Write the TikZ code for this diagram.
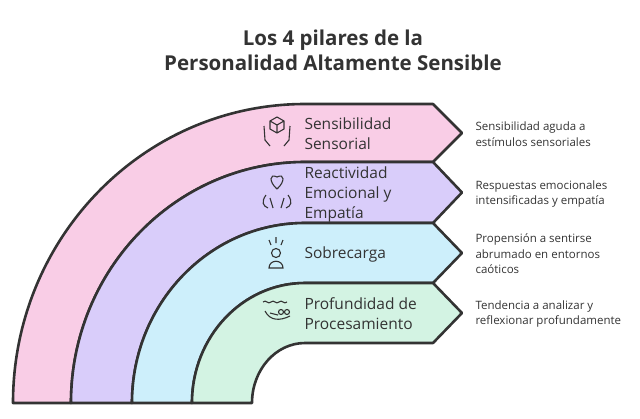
\documentclass[tikz,border=0pt]{standalone}
\usepackage{fontspec}
\setmainfont{Open Sans}
\definecolor{cpink}{HTML}{F9CDE6}
\definecolor{cpurple}{HTML}{D9CDFA}
\definecolor{cblue}{HTML}{CDEFFB}
\definecolor{cgreen}{HTML}{D3F3E3}
\definecolor{ink}{HTML}{333333}
\begin{document}
\begin{tikzpicture}[x=1pt,y=-1pt,
  band/.style={draw=ink,line width=2.6pt,line join=round},
  lab/.style={anchor=west,align=left,font=\fontsize{15.5}{20}\selectfont,text=ink},
  desc/.style={anchor=west,align=left,font=\fontsize{11.5}{15.5}\selectfont,text=ink},
  ico/.style={draw=ink,line width=1.1pt}]
\useasboundingbox (0,0) rectangle (640,418);
\newcommand{\bandshape}[3]{%
  \fill[#3] (305-#1+7,403) arc[start angle=180,end angle=270,x radius=#1-7,y radius=#1]
    -- (433,403-#1) -- (462,403-#1/2-#2/2) -- (433,403-#2) -- (305,403-#2)
    arc[start angle=270,end angle=180,x radius=#2-7,y radius=#2] -- cycle;
  \draw[band] (305-#1+7,403) arc[start angle=180,end angle=270,x radius=#1-7,y radius=#1]
    -- (433,403-#1) -- (462,403-#1/2-#2/2) -- (433,403-#2) -- (305,403-#2)
    arc[start angle=270,end angle=180,x radius=#2-7,y radius=#2] -- cycle;}
\bandshape{299}{241}{cpink}
\bandshape{241}{180}{cpurple}
\bandshape{180}{120}{cblue}
\bandshape{120}{60}{cgreen}
\node[font=\bfseries\fontsize{20.5}{25}\selectfont,text=ink,align=center] (title) at (333,50) {Los 4 pilares de la\\Personalidad Altamente Sensible};
\node[lab] (l1) at (301,134) {Sensibilidad\\Sensorial};
\node[lab] (l2) at (301,194) {Reactividad\\Emocional y\\Empatía};
\node[lab] (l3) at (301,254) {Sobrecarga};
\node[lab] (l4) at (301,314) {Profundidad de\\Procesamiento};
\node[desc] (d1) at (472,134) {Sensibilidad aguda a\\estímulos sensoriales};
\node[desc] (d2) at (472,194) {Respuestas emocionales\\intensificadas y empatía};
\node[desc] (d3) at (472,254) {Propensión a sentirse\\abrumado en entornos\\caóticos};
\node[desc] (d4) at (472,314) {Tendencia a analizar y\\reflexionar profundamente};
% icons
\draw[ico] (270,121) -- (277,117) -- (284,121) -- (284,129) -- (277,133) -- (270,129) -- cycle (270,121) -- (277,125) -- (284,121) (277,125) -- (277,133);
\draw[ico] (264,126) -- (265,140) -- (270,146) (290,126) -- (289,140) -- (284,146);
\draw[ico] (277,189) .. controls (269,182) and (269,173) .. (277,177) .. controls (285,173) and (285,182) .. (277,189);
\draw[ico] (266,195) .. controls (261,202) and (263,206) .. (268,208) (270,198) -- (273,208) (288,195) .. controls (293,202) and (291,206) .. (286,208) (284,198) -- (281,208);
\draw[ico] (276,253) circle (4.5) (269,268) .. controls (269,259) and (283,259) .. (283,268) -- cycle;
\draw[ico] (269,240) -- (271,245) (276,237) -- (276,243) (283,240) -- (281,245);
\draw[ico] (263,302) .. controls (266,299) and (268,305) .. (271,302) .. controls (274,299) and (276,305) .. (279,302) .. controls (282,299) and (284,305) .. (287,302);
\draw[ico] (265,311) .. controls (270,321) and (280,321) .. (290,316) (281,312) circle (2.5) (287,312) circle (2.5) (270,313) -- (278,315);
\end{tikzpicture}
\end{document}
